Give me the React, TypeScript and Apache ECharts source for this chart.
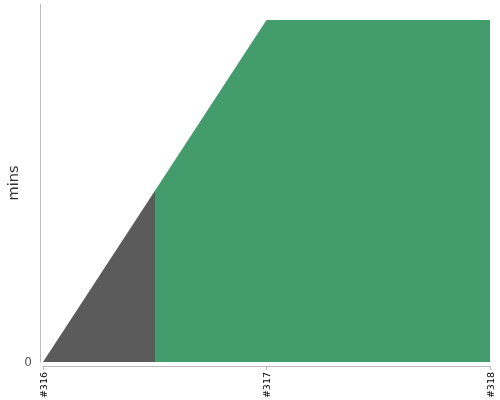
import React, { useEffect, useRef } from "react";
import * as echarts from "echarts";

const categories = ["#316", "#317", "#318"];
const xIndex = [0, 1, 2];
const values = [0, 10, 10];
const yLabels = ["0"];

export default function App() {
  const ref = useRef<HTMLDivElement>(null);
  useEffect(() => {
    if (!ref.current) return;
    const chart = echarts.init(ref.current, null, { renderer: "svg" });
    const yMax = (10 * 358) / 342;
    chart.setOption({
      animation: false,
      grid: { left: 43, right: 10, top: 4, bottom: 38, outerBoundsMode: "none", containLabel: false },
      xAxis: {
        type: "value",
        min: 0,
        max: 2,
        interval: 1,
        offset: 4,
        axisLine: { show: true, onZero: false, lineStyle: { color: "#bbb" } },
        axisTick: { show: true, length: 4, lineStyle: { color: "#bbb" } },
        splitLine: { show: false },
        axisLabel: {
          rotate: 90,
          margin: 6,
          color: "#000",
          fontSize: 9.5,
          fontFamily: "DejaVu Sans",
          formatter: (v: number) => categories[Math.round(v)] ?? "",
        },
      },
      yAxis: {
        type: "value",
        min: 0,
        max: yMax,
        interval: yMax,
        offset: 3,
        name: "mins",
        nameLocation: "middle",
        nameGap: 20,
        nameMoveOverlap: false,
        nameTextStyle: { fontSize: 14.5, color: "#333", fontFamily: "DejaVu Sans" },
        axisLine: { show: true, onZero: false, lineStyle: { color: "#bbb" } },
        axisTick: { show: false },
        splitLine: { show: false },
        axisLabel: {
          showMaxLabel: false,
          margin: 8,
          color: "#555",
          fontSize: 12,
          fontFamily: "DejaVu Sans",
          formatter: (v: number) => (v === 0 ? yLabels[0] : ""),
        },
      },
      visualMap: {
        type: "piecewise",
        show: false,
        dimension: 0,
        seriesIndex: 0,
        pieces: [
          { gte: -10, lt: 0.5, color: "#5b5b5b" },
          { gte: 0.5, lte: 10, color: "#449c6c" },
        ],
      },
      series: [
        {
          type: "line",
          data: xIndex.map((x, i) => [x, values[i]]),
          showSymbol: false,
          symbol: "none",
          lineStyle: { width: 0 },
          areaStyle: { opacity: 1 },
        },
      ],
    });
    return () => chart.dispose();
  }, []);
  return (
    <div
      ref={ref}
      style={{ position: "fixed", left: 0, top: 0, width: 500, height: 400 }}
    />
  );
}
